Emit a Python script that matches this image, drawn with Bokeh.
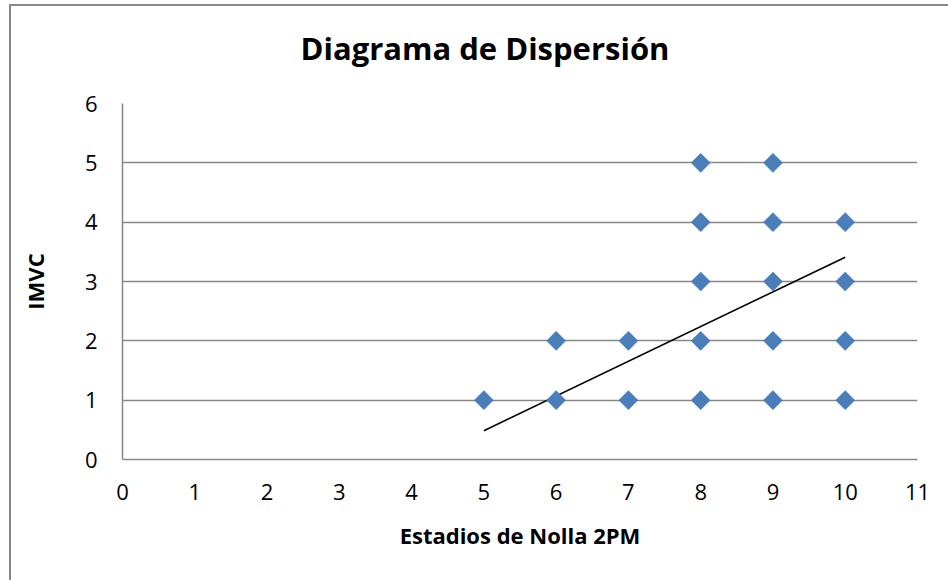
from bokeh.plotting import figure
from bokeh.models import Range1d, FixedTicker, ColumnDataSource, Div
from bokeh.layouts import column
from bokeh.embed import file_html
from bokeh.resources import INLINE
import math

# Observations: Nolla stage (x) vs IMVC (y)
estadios = [5, 6, 6, 7, 7, 8, 8, 8, 8, 8, 9, 9, 9, 9, 9, 10, 10, 10, 10]
imvc = [1, 1, 2, 1, 2, 1, 2, 3, 4, 5, 1, 2, 3, 4, 5, 1, 2, 3, 4]

# Linear trendline coefficients
trend_slope = 0.585
trend_intercept = -2.44
trend_x = [5, 10]

x_ticks = list(range(0, 12))
y_ticks = list(range(0, 7))

FONT = "Open Sans"
GRID = "#878787"
W = 937

# chart title
title_html = ('<div style="width:%dpx;box-sizing:border-box;padding:21px 0 0 11px;'
              'text-align:center;font-family:\'Open Sans\';font-size:31px;'
              'font-weight:bold;line-height:42px;color:black;">'
              'Diagrama de Dispersión</div>' % W)
title = Div(text=title_html, width=W, height=82, margin=0)

p = figure(width=W, height=492, output_backend="svg", toolbar_location=None,
           x_range=Range1d(0, 11), y_range=Range1d(0, 6),
           min_border_left=111, min_border_right=31,
           min_border_top=15, min_border_bottom=121, margin=0)

p.outline_line_color = None
p.xgrid.grid_line_color = None
p.ygrid.grid_line_color = GRID
p.ygrid.grid_line_width = 1.5
p.ygrid.ticker = FixedTicker(ticks=y_ticks)

for ax in (p.xaxis, p.yaxis):
    ax.axis_line_color = GRID
    ax.axis_line_width = 1.5
    ax.major_tick_line_color = None
    ax.minor_tick_line_color = None
    ax.major_label_text_font = FONT
    ax.major_label_text_font_size = "22px"
    ax.major_label_text_color = "black"
    ax.axis_label_text_font = FONT
    ax.axis_label_text_font_style = "bold"
    ax.axis_label_text_font_size = "22px"
    ax.axis_label_text_color = "black"

p.xaxis.ticker = FixedTicker(ticks=x_ticks)
p.yaxis.ticker = FixedTicker(ticks=y_ticks)
p.xaxis.major_label_standoff = 18
p.yaxis.major_label_standoff = 19
p.xaxis.axis_label = "Estadios de Nolla 2PM"
p.yaxis.axis_label = "IMVC"
p.xaxis.axis_label_standoff = 17
p.yaxis.axis_label_standoff = 32

# trendline
trend_y = [trend_slope * x + trend_intercept for x in trend_x]
p.line(trend_x, trend_y, line_color="black", line_width=1.6)

src = ColumnDataSource(dict(x=estadios, y=imvc))
p.scatter("x", "y", source=src, marker="square", size=13.5, angle=math.pi / 4,
          fill_color="#4A7EBB", line_color="#4A7EBB", line_width=0.5)

layout = column(title, p, spacing=0)
layout.styles = {"margin-left": "9px", "margin-top": "4px",
                 "border-left": "2px solid #878787", "border-top": "2px solid #878787",
                 "background-color": "white"}

open("out.html", "w").write(file_html(layout, INLINE))
